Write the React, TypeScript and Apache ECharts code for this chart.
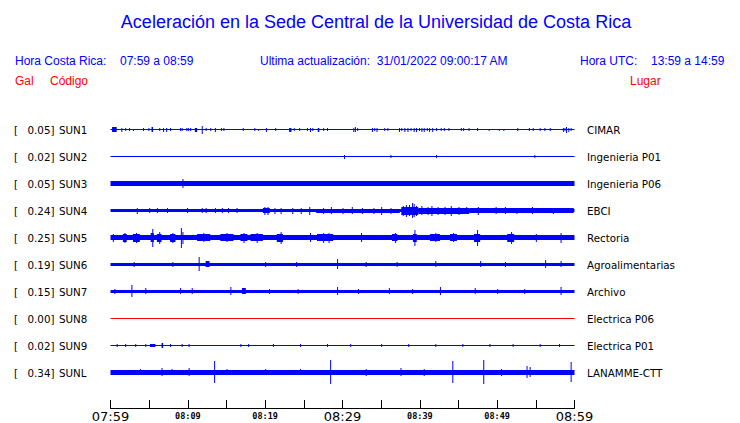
import React, { useEffect, useRef } from 'react';
import * as echarts from 'echarts';

// ---- data ----
const stationCodes = ['SUN1', 'SUN2', 'SUN3', 'SUN4', 'SUN5', 'SUN6', 'SUN7', 'SUN8', 'SUN9', 'SUNL'];
const peakGal = ['0.05', '0.02', '0.05', '0.24', '0.25', '0.19', '0.15', '0.00', '0.02', '0.34'];
const places = ['CIMAR', 'Ingenieria P01', 'Ingenieria P06', 'EBCI', 'Rectoria', 'Agroalimentarias', 'Archivo', 'Electrica P06', 'Electrica P01', 'LANAMME-CTT'];
const tickLabels = ['07:59', '08:09', '08:19', '08:29', '08:39', '08:49', '08:59'];

// background (noise) amplitude of each trace (relative units, 27 = trace spacing)
const baseAmp = [0.6, 0.6, 2.6, 1.6, 2.7, 1.7, 1.7, 0.5, 0.6, 2.5];

// bursts: [start minute, end minute, half amplitude]
const sun1Bursts = [
  [0.2, 0.8, 2.5], [1.4, 1.4, 2], [1.9, 1.9, 1.5], [2.4, 2.4, 1.5], [2.9, 2.9, 1], [4.2, 4.2, 1.5], [4.9, 4.9, 1.5],
  [5.3, 5.5, 2.5], [6.3, 6.3, 1.5], [6.8, 6.8, 2], [7.2, 7.2, 2], [7.7, 7.7, 1.5], [9.0, 9.0, 1.5], [9.2, 9.2, 1.5],
  [9.8, 9.8, 1.5], [10.0, 10.0, 1.5], [10.3, 10.3, 1.5], [10.9, 11.2, 2], [11.8, 11.8, 4], [12.3, 12.3, 1.5],
  [12.9, 12.9, 1.5], [13.5, 13.5, 2], [14.3, 14.3, 1.5], [14.6, 14.6, 1.5], [17.1, 17.1, 1.5], [18.6, 18.6, 1.5],
  [19.1, 19.1, 1], [20.1, 20.1, 2], [21.3, 21.3, 1.5], [23.1, 23.4, 2], [23.7, 23.7, 1.5], [24.4, 24.4, 1.5],
  [25.4, 25.4, 1.5], [25.8, 25.8, 2], [26.1, 26.1, 1.5], [26.8, 27.0, 2], [27.5, 27.5, 1.5], [28.0, 28.0, 1.5],
  [31.4, 31.4, 2], [31.6, 31.6, 2.5], [31.9, 31.9, 1.5], [33.8, 33.8, 2], [34.1, 34.1, 1.5], [34.4, 34.4, 2],
  [35.4, 35.4, 1.5], [35.8, 35.8, 1.5], [37.3, 37.3, 2], [37.6, 37.6, 1.5], [38.0, 38.0, 2], [38.4, 38.4, 2],
  [38.8, 38.8, 1.5], [39.2, 39.2, 2], [39.5, 39.5, 2], [39.9, 39.9, 1.5], [40.2, 40.2, 2], [40.5, 40.5, 2],
  [40.9, 40.9, 1.5], [41.2, 41.2, 2], [41.6, 41.6, 2], [42.1, 42.1, 1.5], [42.7, 42.7, 1.5], [43.1, 43.1, 1.5],
  [43.7, 43.7, 1.5], [45.3, 45.3, 1.5], [45.6, 45.6, 1.5], [46.3, 46.3, 1.5], [47.4, 47.4, 1.5], [48.9, 48.9, 1],
  [50.2, 50.2, 1], [50.8, 50.8, 1], [52.6, 52.6, 1.5], [54.1, 54.1, 1.5], [54.6, 54.6, 1.5], [55.5, 55.5, 1.5],
  [56.1, 56.1, 1.5], [56.8, 56.8, 1.5], [58.5, 58.5, 2], [58.7, 58.7, 1.5], [58.9, 58.9, 3], [59.2, 59.2, 2], [59.5, 59.5, 1.5],
];
const sun2Bursts = [[30.2, 30.2, 2], [36.2, 36.2, 1.5], [42.1, 42.1, 1.5], [54.8, 54.8, 1.5]];
const sun3Bursts = [[9.3, 9.3, 4.5]];
const sun4Bursts = [
  [19.7, 20.6, 2.6], [26.6, 37.4, 2.2], [37.6, 39.8, 3.8], [39.8, 46.4, 2.8], [46.4, 59.9, 2.4],
  [3.4, 3.4, 3], [5.0, 5.0, 2.5], [6.0, 6.0, 2.5], [7.3, 7.3, 2.5], [9.9, 9.9, 2.5], [11.8, 11.8, 2.5], [12.3, 12.3, 2.5],
  [13.5, 13.5, 2.5], [14.4, 14.4, 2.5], [15.2, 15.2, 2.5], [16.3, 16.3, 2.5], [19.9, 19.9, 4], [20.3, 20.3, 4],
  [21.2, 21.2, 3], [22.0, 22.0, 3], [23.5, 23.5, 3], [24.6, 24.6, 3], [25.7, 25.7, 4], [27.5, 27.5, 3],
  [28.5, 28.5, 3.5], [30.0, 30.0, 3], [31.2, 31.2, 3.5], [32.5, 32.5, 3], [34.0, 34.0, 3], [35.0, 35.0, 4],
  [36.2, 36.2, 3], [37.8, 37.8, 5], [38.2, 38.2, 6], [38.6, 38.6, 5.5], [39.0, 39.0, 7.5], [39.2, 39.2, 6.5],
  [39.5, 39.5, 5], [40.2, 40.2, 4.5], [41.0, 41.0, 4], [41.5, 41.5, 5], [42.3, 42.3, 4], [43.2, 43.2, 4],
  [44.0, 44.0, 5], [45.0, 45.0, 4], [46.0, 46.0, 3.5], [47.5, 47.5, 4], [49.8, 49.8, 3.5], [51.0, 51.0, 3.5],
  [52.5, 52.5, 3], [54.5, 54.5, 3.5], [57.2, 57.2, 3],
];
const sun5Bursts = [
  [1.6, 2.1, 3.8], [2.9, 3.8, 3.8], [5.2, 5.6, 4.5], [6.0, 6.6, 4], [7.7, 8.4, 3.8], [11.2, 12.9, 3.3],
  [14.2, 15.9, 3.3], [16.8, 17.7, 3.3], [18.1, 19.7, 3.6], [21.5, 22.3, 3.8], [26.7, 28.8, 3.5], [36.4, 37.1, 3.6],
  [39.1, 39.6, 4], [41.3, 42.6, 3.3], [43.9, 44.8, 3.3], [47.0, 47.8, 3.8], [51.3, 52.2, 3.8],
  [0.3, 0.3, 4], [1.8, 1.8, 5], [3.3, 3.3, 5], [5.4, 5.4, 9], [6.3, 6.3, 6], [8.0, 8.0, 5], [9.1, 9.1, 10],
  [9.3, 9.3, 6], [12.0, 12.0, 4.5], [15.0, 15.0, 4.5], [17.2, 17.2, 5], [18.9, 18.9, 5], [22.0, 22.0, 6],
  [25.8, 25.8, 4.5], [27.5, 27.5, 5], [28.2, 28.2, 5], [32.4, 32.4, 4.5], [36.8, 36.8, 5], [39.3, 39.3, 8],
  [42.0, 42.0, 4.5], [44.3, 44.3, 4.5], [47.4, 47.4, 8], [51.8, 51.8, 6], [55.0, 55.0, 4], [58.2, 58.2, 5],
];
const sun6Bursts = [
  [3.0, 3.0, 2.5], [8.0, 8.0, 2.5], [11.4, 11.4, 7], [12.3, 12.8, 3], [20.0, 20.0, 2.5], [24.0, 24.0, 2.5],
  [29.3, 29.3, 5], [33.0, 33.0, 2.5], [37.0, 37.0, 2.5], [42.0, 42.0, 3], [47.8, 47.8, 3], [51.0, 51.0, 2.5],
  [56.2, 56.2, 4], [58.2, 58.2, 3],
];
const sun7Bursts = [
  [0.5, 0.5, 2.5], [2.7, 2.7, 6], [4.5, 4.5, 3], [9.0, 9.0, 3], [10.5, 10.5, 3], [15.5, 15.5, 4], [17.0, 17.5, 3],
  [20.5, 20.5, 2.5], [24.2, 24.2, 2.5], [29.3, 29.3, 4], [32.0, 32.0, 2.5], [36.0, 36.0, 3], [39.0, 39.0, 2.5],
  [42.6, 42.6, 4], [47.1, 47.1, 3], [50.0, 50.0, 2.5], [53.5, 53.5, 2.5], [58.2, 58.2, 4],
];
const sun8Bursts: number[][] = [];
const sun9Bursts = [
  [0.8, 0.8, 1.5], [1.9, 1.9, 1.5], [3.2, 3.2, 1.5], [4.5, 4.5, 1.5], [5.1, 5.8, 1.5], [6.6, 6.8, 2.5], [7.7, 7.7, 1.5],
  [9.2, 9.2, 1.5], [10.1, 10.1, 1.5], [16.8, 16.8, 1.5], [17.8, 17.8, 1.5], [21.0, 21.0, 1.5], [24.5, 24.5, 1.5],
  [28.0, 28.0, 1.5], [31.0, 31.0, 1.5], [35.0, 35.0, 1.5], [38.5, 38.5, 1.5], [42.0, 42.0, 1.5], [45.5, 45.5, 1.5],
  [49.0, 49.0, 1.5], [52.0, 52.0, 1.5], [55.5, 55.5, 1.5], [58.0, 58.0, 1.5],
];
const sunlBursts = [
  [3.8, 3.8, 3], [6.6, 6.6, 4], [7.9, 7.9, 3], [10.1, 10.1, 4], [13.4, 13.4, 11], [15.0, 15.0, 3], [20.0, 20.0, 3],
  [24.5, 24.5, 3], [28.4, 28.4, 12], [33.0, 33.0, 3.5], [37.5, 37.5, 4], [40.5, 40.5, 3.5], [44.2, 44.2, 11],
  [48.2, 48.2, 12], [50.5, 50.5, 3.5], [53.8, 53.8, 6], [54.2, 54.2, 5], [59.5, 59.5, 10],
];
const burstsByTrace = [sun1Bursts, sun2Bursts, sun3Bursts, sun4Bursts, sun5Bursts, sun6Bursts, sun7Bursts, sun8Bursts, sun9Bursts, sunlBursts];

const BLUE = '#0000ff';
const RED = '#ff0000';

export default function App() {
  const ref = useRef<HTMLDivElement>(null);
  useEffect(() => {
    document.body.style.margin = '0';
    const chart = echarts.init(ref.current!, undefined, { renderer: 'svg' });

    const n = stationCodes.length;
    const traceRows: number[][] = [];
    for (let i = 0; i < n; i++) {
      traceRows.push([i, 0, 60, baseAmp[i]]);
      burstsByTrace[i].forEach((b) => traceRows.push([i, b[0], b[1], b[2]]));
    }
    const labelRows = stationCodes.map((_, i) => [i, 0]);

    const hdr = (text: string, x: number, y: number, color: string, size = 12, align = 'left') => ({
      type: 'text', x, y,
      style: { text, fill: color, fontFamily: 'Liberation Sans', fontSize: size, align, verticalAlign: 'middle' },
    });

    chart.setOption({
      animation: false,
      backgroundColor: '#ffffff',
      grid: { left: 110.5, right: 165.5, top: 116.5, bottom: 14, containLabel: false },
      xAxis: {
        type: 'value', min: 0, max: 60, interval: 5,
        axisLine: { show: true, onZero: false, lineStyle: { color: '#000', width: 1 } },
        axisTick: { show: true, inside: true, length: 8, lineStyle: { color: '#000', width: 1 } },
        splitLine: { show: false },
        axisLabel: {
          margin: 2,
          showMinLabel: true, showMaxLabel: true,
          formatter: (v: number) => {
            if (v % 10 !== 0) return '';
            const lbl = tickLabels[v / 10];
            return v % 30 === 0 ? `{big|${lbl}}` : `{small|${lbl}}`;
          },
          rich: {
            big: { fontFamily: 'DejaVu Sans', fontSize: 13, color: '#000', lineHeight: 13 },
            small: { fontFamily: 'DejaVu Sans Mono', fontWeight: 'bold', fontSize: 8.5, color: '#000', lineHeight: 11 },
          },
        },
      },
      yAxis: { type: 'value', min: -1.3333, max: 9.5, show: false },
      graphic: [
        hdr('Aceleración en la Sede Central de la Universidad de Costa Rica', 376, 22, BLUE, 18, 'center'),
        hdr('Hora Costa Rica:', 15, 61, BLUE),
        hdr('07:59 a 08:59', 120, 61, BLUE),
        hdr('Ultima actualización:  31/01/2022 09:00:17 AM', 260, 61, BLUE),
        hdr('Hora UTC:', 580, 61, BLUE),
        hdr('13:59 a 14:59', 651, 61, BLUE),
        hdr('Gal', 15, 81, RED),
        hdr('Código', 50, 81, RED),
        hdr('Lugar', 630, 81, RED),
      ],
      series: [
        {
          type: 'custom',
          name: 'traces',
          encode: { x: [1, 2], y: 0 },
          data: traceRows,
          renderItem: (params: any, api: any) => {
            const i = api.value(0);
            const t0 = api.value(1);
            const t1 = api.value(2);
            const amp = api.value(3);
            const p0 = api.coord([t0, n - 1 - i]);
            const p1 = api.coord([t1, n - 1 - i]);
            const unit = api.size([0, 1])[1] / 27;
            const h = Math.max(1, Math.round(2 * amp * unit));
            const w = Math.max(1, p1[0] - p0[0]);
            return {
              type: 'rect',
              shape: { x: p0[0], y: Math.round(p0[1] - h / 2), width: w, height: h },
              style: { fill: i === 7 ? RED : BLUE },
            };
          },
        },
        {
          type: 'custom',
          name: 'labels',
          encode: { x: 1, y: 0 },
          data: labelRows,
          renderItem: (params: any, api: any) => {
            const i = api.value(0);
            const p = api.coord([0, n - 1 - i]);
            const y = p[1] + 0.5;
            const font = { fontFamily: 'DejaVu Sans', fontSize: 10.3, fill: '#000', verticalAlign: 'middle' };
            return {
              type: 'group',
              children: [
                { type: 'text', style: { ...font, text: '[', x: 14, y, align: 'left' } },
                { type: 'text', style: { ...font, text: peakGal[i] + ']', x: 54.5, y, align: 'right' } },
                { type: 'text', style: { ...font, text: stationCodes[i], x: 59, y, align: 'left' } },
                { type: 'text', style: { ...font, text: places[i], x: 587, y, align: 'left' } },
              ],
            };
          },
        },
      ],
    });
    return () => chart.dispose();
  }, []);
  return <div ref={ref} style={{ width: 740, height: 423 }} />;
}
